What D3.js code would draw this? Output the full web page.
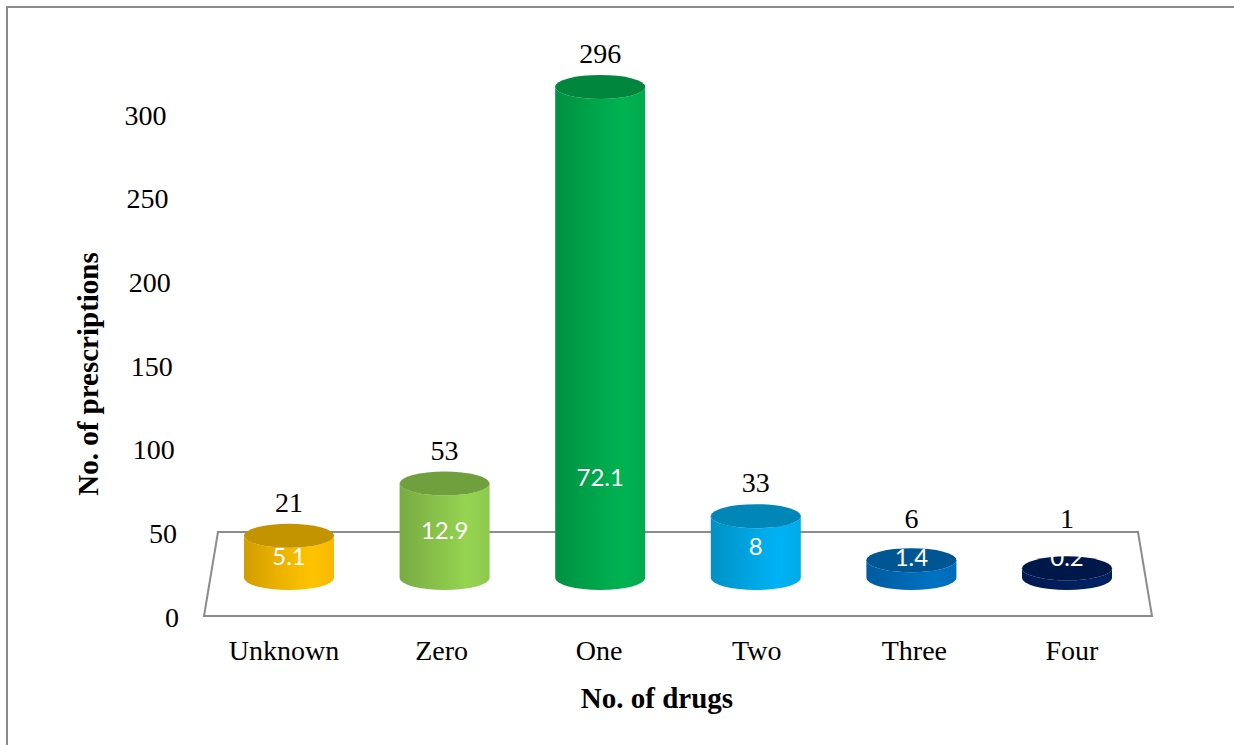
<!DOCTYPE html>
<html>
<head>
<meta charset="utf-8">
<script src="https://cdn.jsdelivr.net/npm/d3@7/dist/d3.min.js"></script>
<style>
  html, body { margin: 0; padding: 0; background: #fff; }
  svg { display: block; }
  .serif { font-family: "Liberation Serif", "Times New Roman", serif; fill: #000; }
  .inner { font-family: Lato, "Open Sans", sans-serif; fill: #fff; }
</style>
</head>
<body>
<svg id="chart" width="1234" height="745"></svg>
<script>
// Number of drugs per prescription
const categories = ["Unknown", "Zero", "One", "Two", "Three", "Four"];
const prescriptions = [21, 53, 296, 33, 6, 1];
const percents = ["5.1", "12.9", "72.1", "8", "1.4", "0.2"];
const yTicks = [0, 50, 100, 150, 200, 250, 300];
const barColors = ["#FFC000", "#92D050", "#00B050", "#00B0F0", "#0070C0", "#002060"];

const W = 1234, H = 745;
const svg = d3.select("#chart");
const defs = svg.append("defs");

// outer frame
svg.append("path")
  .attr("d", `M7,${H} L7,7 L${W},7`)
  .attr("fill", "none").attr("stroke", "#8a8a8a").attr("stroke-width", 2);

// floor of the 3D plot area
const floor = [[218, 532], [1138, 532], [1152, 616], [204, 616]];
svg.append("polygon")
  .attr("points", floor.map(p => p.join(",")).join(" "))
  .attr("fill", "#fff").attr("stroke", "#8c8c8c").attr("stroke-width", 2);

// scales
const xBar = d3.scalePoint().domain(categories).range([289, 1067]);
const xLabel = d3.scalePoint().domain(categories).range([284, 1072]);
const yBar = d3.scaleLinear().domain([0, 300]).range([570, 80.4]);
const yAxis = d3.scaleLinear().domain([0, 300]).range([617, 115]);
const xAxisEdge = d3.scaleLinear().domain([0, 300]).range([179, 166.5]);
const baseY = 578;
const rx = 45, ry = 12;

// y tick labels (follow the slanted left edge)
svg.append("g").selectAll("text").data(yTicks).join("text")
  .attr("class", "serif")
  .attr("x", d => xAxisEdge(d))
  .attr("y", d => yAxis(d))
  .attr("dy", "0.34em")
  .attr("text-anchor", "end")
  .attr("font-size", 28)
  .text(d => d);

// category labels
svg.append("g").selectAll("text").data(categories).join("text")
  .attr("class", "serif")
  .attr("x", d => xLabel(d))
  .attr("y", 660)
  .attr("text-anchor", "middle")
  .attr("font-size", 28)
  .text(d => d);

// axis titles
svg.append("text").attr("class", "serif")
  .attr("x", 657).attr("y", 708)
  .attr("text-anchor", "middle")
  .attr("font-size", 29).attr("font-weight", "bold")
  .text("No. of drugs");
svg.append("text").attr("class", "serif")
  .attr("transform", "translate(88,374) rotate(-90)")
  .attr("dy", "0.35em")
  .attr("text-anchor", "middle")
  .attr("font-size", 29).attr("font-weight", "bold")
  .text("No. of prescriptions");

// shaded side gradients for each cylinder
barColors.forEach((c, i) => {
  const base = d3.color(c);
  const g = defs.append("linearGradient").attr("id", "side" + i)
    .attr("x1", "0%").attr("x2", "100%").attr("y1", "0%").attr("y2", "0%");
  g.append("stop").attr("offset", "0%").attr("stop-color", base.darker(0.55));
  g.append("stop").attr("offset", "35%").attr("stop-color", base.darker(0.25));
  g.append("stop").attr("offset", "75%").attr("stop-color", base.brighter(0.05));
  g.append("stop").attr("offset", "100%").attr("stop-color", base.darker(0.1));
});

const data = categories.map((c, i) => ({
  cat: c, value: prescriptions[i], pct: percents[i], color: barColors[i], i
}));

const bars = svg.append("g").selectAll("g").data(data).join("g");

// cylinder body
bars.append("path")
  .attr("d", d => {
    const cx = xBar(d.cat), top = yBar(d.value);
    return `M${cx - rx},${top} L${cx - rx},${baseY} ` +
      `A${rx},${ry} 0 0 0 ${cx + rx},${baseY} L${cx + rx},${top} ` +
      `A${rx},${ry} 0 0 1 ${cx - rx},${top} Z`;
  })
  .attr("fill", d => `url(#side${d.i})`);

// cylinder top face
bars.append("ellipse")
  .attr("cx", d => xBar(d.cat))
  .attr("cy", d => yBar(d.value))
  .attr("rx", rx).attr("ry", ry)
  .attr("fill", d => d3.color(d.color).darker(0.75));

// value labels above each cylinder
bars.append("text")
  .attr("class", "serif")
  .attr("x", d => xBar(d.cat))
  .attr("y", d => Math.min(yBar(d.value) - ry - 12, 528))
  .attr("text-anchor", "middle")
  .attr("font-size", 28)
  .text(d => d.value);

// percentage labels inside each cylinder
bars.append("text")
  .attr("class", "inner")
  .attr("x", d => xBar(d.cat))
  .attr("y", d => {
    const mid = (baseY + yBar(d.value)) / 2;
    return Math.max(478, Math.min(mid, 558));
  })
  .attr("dy", "0.35em")
  .attr("text-anchor", "middle")
  .attr("font-size", 24)
  .text(d => d.pct);
</script>
</body>
</html>
